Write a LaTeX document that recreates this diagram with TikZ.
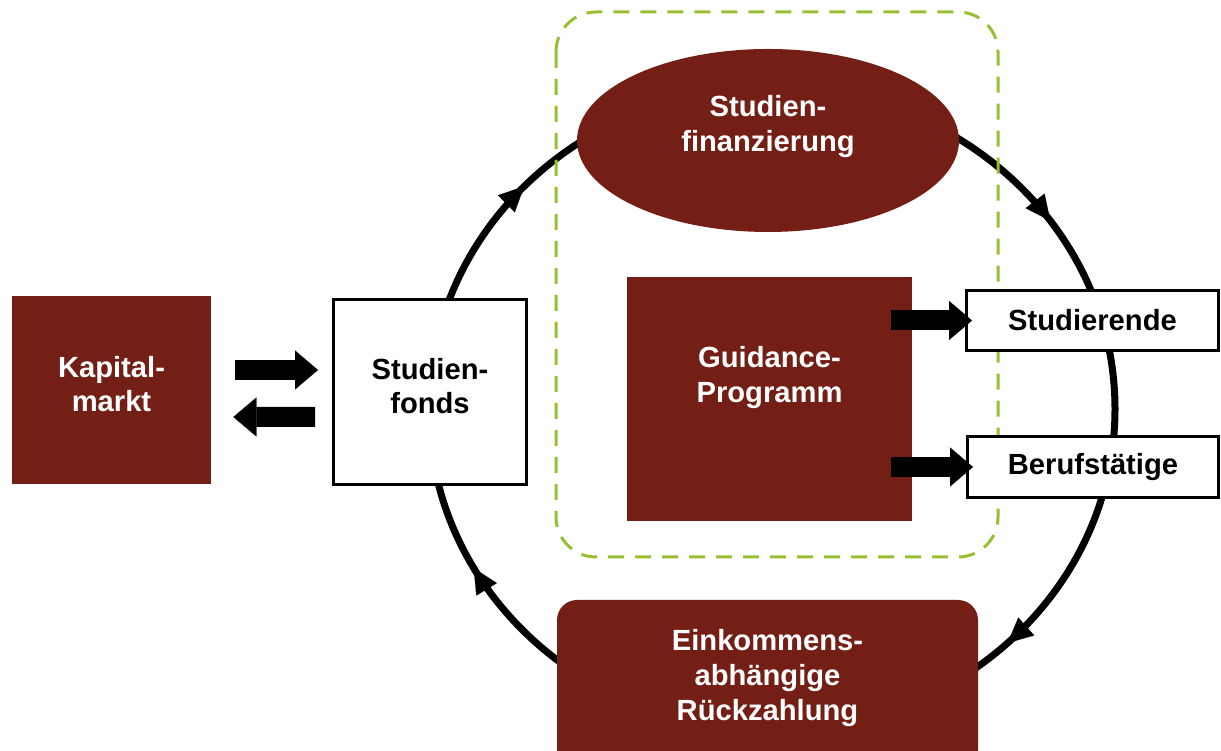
\documentclass[tikz,border=0pt]{standalone}
\usepackage{fontspec}
\setmainfont{Liberation Sans}
\usetikzlibrary{shapes.geometric, arrows.meta, positioning, calc, decorations.markings}
\definecolor{darkred}{RGB}{115,31,22}
\definecolor{limegreen}{RGB}{152,190,50}
\newcommand{\boxfont}{\fontsize{16.6}{19.8}\selectfont\bfseries}

\begin{document}
\begin{tikzpicture}[
        redbox/.style={rectangle, fill=darkred, text=white, align=center, font=\boxfont, inner sep=0pt},
        whitebox/.style={rectangle, draw=black, line width=0.06cm, fill=white, align=center, font=\boxfont, inner sep=0pt},
        blockarrow/.style={-{Triangle[length=0.46cm, width=0.78cm, line width=0.1pt]}, line width=0.4cm},
        loopline/.style={line width=0.14cm, postaction=decorate, decoration={markings,
            mark=at position 0.127 with {\arrow{Triangle[length=0.5cm, width=0.48cm, line width=0.1pt]}},
            mark=at position 0.42 with {\arrow{Triangle[length=0.5cm, width=0.48cm, line width=0.1pt]}},
            mark=at position 0.619 with {\arrow{Triangle[length=0.5cm, width=0.48cm, line width=0.1pt]}},
            mark=at position 0.903 with {\arrow{Triangle[length=0.5cm, width=0.48cm, line width=0.1pt]}}}},
        dashbox/.style={draw=limegreen, line width=0.06cm, dash pattern=on 0.32cm off 0.22cm, rounded corners=0.8cm}
    ]
        \useasboundingbox (0,0) rectangle (24.42,15.02);

        % cycle behind everything
        \coordinate (hub) at (15.44,6.84);
        \draw[loopline] ([xshift=6.86cm]hub) arc[start angle=0, end angle=-360, x radius=6.86cm, y radius=6.44cm];
        \draw[dashbox] (11.12,14.78) rectangle (19.96,3.88);

        \node[redbox, minimum width=3.98cm, minimum height=3.76cm] (kapital) at (2.23,7.22) {Kapital-\\markt\\[-0.45cm]\mbox{}};
        \node[whitebox, minimum width=3.86cm, minimum height=3.70cm] (fonds) at (8.6,7.18) {Studien-\\fonds\\[-0.45cm]\mbox{}};
        \node[ellipse, fill=darkred, text=white, align=center, font=\boxfont, inner sep=0pt, minimum width=7.64cm, minimum height=3.66cm] (finanz) at (15.36,12.21) {Studien-\\finanzierung\\\mbox{}};
        \node[redbox, minimum width=5.70cm, minimum height=4.88cm] (guide) at (15.39,7.04) {Guidance-\\Programm\\[0.28cm]\mbox{}};
        \node[redbox, rounded corners=0.4cm, minimum width=8.42cm, minimum height=3.4cm] (rueck) at (15.35,1.32) {Einkommens-\\abhängige\\Rückzahlung\\[-0.3cm]\mbox{}};
        \node[whitebox, minimum width=5.04cm, minimum height=1.20cm] (stud) at (21.85,8.61) {Studierende};
        \node[whitebox, minimum width=5.02cm, minimum height=1.22cm] (beruf) at (21.86,5.68) {Berufstätige};

        \draw[blockarrow] ([xshift=0.48cm, yshift=0.4cm]kapital.east) -- ([xshift=-0.28cm, yshift=0.44cm]fonds.west);
        \draw[blockarrow] ([xshift=-0.34cm, yshift=-0.5cm]fonds.west) -- ([xshift=0.44cm, yshift=-0.54cm]kapital.east);

        \draw[blockarrow] ([xshift=-0.42cm]guide.east |- stud.west) -- ([xshift=0.14cm]stud.west);
        \draw[blockarrow] ([xshift=-0.42cm]guide.east |- beruf.west) -- ([xshift=0.14cm]beruf.west);
    \end{tikzpicture}
\end{document}
